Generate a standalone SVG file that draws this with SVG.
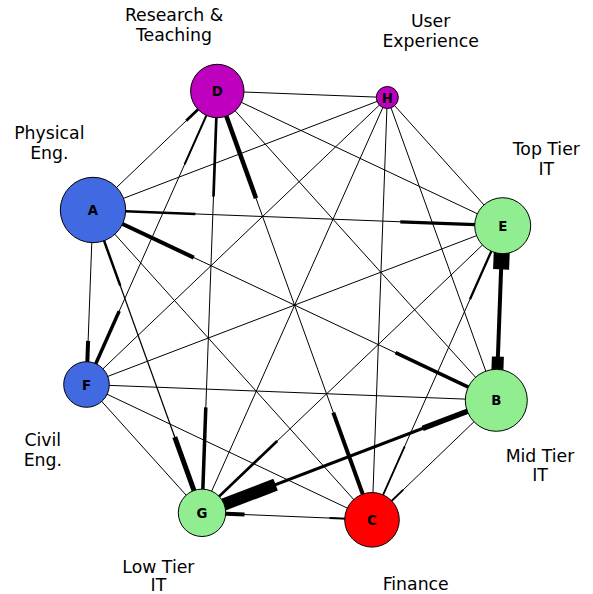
<svg xmlns="http://www.w3.org/2000/svg" width="593" height="594" viewBox="0 0 593 594">
<style>
.e{stroke:#000;stroke-width:1;stroke-linecap:butt;fill:none}
.s{stroke:#000;stroke-linecap:butt;fill:none}
.n{stroke:#000;stroke-width:1}
.nl{font-family:"DejaVu Sans",sans-serif;font-weight:bold;font-size:13.3px;text-anchor:middle;fill:#000}
.gl{font-family:"DejaVu Sans",sans-serif;font-size:17.3px;text-anchor:middle;fill:#000}
</style>
<rect width="593" height="594" fill="#fff"/>
<g id="connectors">
<line class="e" x1="93" y1="210" x2="217.3" y2="91"/>
<line class="e" x1="93" y1="210" x2="387.3" y2="97.5"/>
<line class="e" x1="93" y1="210" x2="502.7" y2="225.7"/>
<line class="e" x1="93" y1="210" x2="496.3" y2="400.3"/>
<line class="e" x1="93" y1="210" x2="372" y2="519.8"/>
<line class="e" x1="93" y1="210" x2="202" y2="512.8" style="stroke-width:1.25"/>
<line class="e" x1="93" y1="210" x2="86.5" y2="384.5"/>
<line class="e" x1="217.3" y1="91" x2="387.3" y2="97.5"/>
<line class="e" x1="217.3" y1="91" x2="502.7" y2="225.7"/>
<line class="e" x1="217.3" y1="91" x2="496.3" y2="400.3"/>
<line class="e" x1="217.3" y1="91" x2="372" y2="519.8"/>
<line class="e" x1="217.3" y1="91" x2="202" y2="512.8"/>
<line class="e" x1="217.3" y1="91" x2="86.5" y2="384.5"/>
<line class="e" x1="387.3" y1="97.5" x2="502.7" y2="225.7"/>
<line class="e" x1="387.3" y1="97.5" x2="496.3" y2="400.3"/>
<line class="e" x1="387.3" y1="97.5" x2="372" y2="519.8"/>
<line class="e" x1="387.3" y1="97.5" x2="202" y2="512.8"/>
<line class="e" x1="387.3" y1="97.5" x2="86.5" y2="384.5"/>
<line class="e" x1="502.7" y1="225.7" x2="496.3" y2="400.3" style="stroke-width:4"/>
<line class="e" x1="502.7" y1="225.7" x2="372" y2="519.8"/>
<line class="e" x1="502.7" y1="225.7" x2="202" y2="512.8"/>
<line class="e" x1="502.7" y1="225.7" x2="86.5" y2="384.5"/>
<line class="e" x1="496.3" y1="400.3" x2="372" y2="519.8"/>
<line class="e" x1="496.3" y1="400.3" x2="202" y2="512.8" style="stroke-width:3.1"/>
<line class="e" x1="496.3" y1="400.3" x2="86.5" y2="384.5"/>
<line class="e" x1="372" y1="519.8" x2="202" y2="512.8"/>
<line class="e" x1="372" y1="519.8" x2="86.5" y2="384.5"/>
<line class="e" x1="202" y1="512.8" x2="86.5" y2="384.5"/>
<line class="s" x1="186.2" y1="120.75" x2="217.3" y2="91" style="stroke-width:2.7"/>
<line class="s" x1="195.4" y1="213.9" x2="93" y2="210" style="stroke-width:2.5"/>
<line class="s" x1="400.3" y1="221.8" x2="502.7" y2="225.7" style="stroke-width:3.3"/>
<line class="s" x1="193.8" y1="257.6" x2="93" y2="210" style="stroke-width:4"/>
<line class="s" x1="395.5" y1="352.7" x2="496.3" y2="400.3" style="stroke-width:3.5"/>
<line class="s" x1="174.75" y1="437.1" x2="202" y2="512.8" style="stroke-width:5"/>
<line class="s" x1="120.25" y1="285.7" x2="93" y2="210" style="stroke-width:2.5"/>
<line class="s" x1="88.1" y1="340.9" x2="86.5" y2="384.5" style="stroke-width:4"/>
<line class="s" x1="256" y1="198.2" x2="217.3" y2="91" style="stroke-width:4.5"/>
<line class="s" x1="333.3" y1="412.6" x2="372" y2="519.8" style="stroke-width:4"/>
<line class="s" x1="213.5" y1="196.45" x2="217.3" y2="91" style="stroke-width:2.7"/>
<line class="s" x1="205.8" y1="407.35" x2="202" y2="512.8" style="stroke-width:3.5"/>
<line class="s" x1="119.2" y1="311.1" x2="86.5" y2="384.5" style="stroke-width:3.5"/>
<line class="s" x1="184.6" y1="164.4" x2="217.3" y2="91" style="stroke-width:2"/>
<line class="s" x1="501.1" y1="269.35" x2="502.7" y2="225.7" style="stroke-width:16"/>
<line class="s" x1="497.9" y1="356.65" x2="496.3" y2="400.3" style="stroke-width:12"/>
<line class="s" x1="404.7" y1="446.3" x2="372" y2="519.8" style="stroke-width:1.8"/>
<line class="s" x1="470" y1="299.2" x2="502.7" y2="225.7" style="stroke-width:2.3"/>
<line class="s" x1="277.2" y1="441" x2="202" y2="512.8" style="stroke-width:2.7"/>
<line class="s" x1="403.1" y1="489.9" x2="372" y2="519.8" style="stroke-width:2"/>
<line class="s" x1="275.6" y1="484.7" x2="202" y2="512.8" style="stroke-width:12.5"/>
<line class="s" x1="422.7" y1="428.4" x2="496.3" y2="400.3" style="stroke-width:5.5"/>
<line class="s" x1="244.5" y1="514.55" x2="202" y2="512.8" style="stroke-width:4"/>
<line class="s" x1="329.5" y1="518.05" x2="372" y2="519.8" style="stroke-width:2"/>
</g>
<g id="node-A"><circle class="n" cx="93" cy="210" r="32.7" fill="#4169E1"/><text class="nl" x="93" y="215">A</text></g>
<g id="node-D"><circle class="n" cx="217.3" cy="91" r="26.7" fill="#BF00BF"/><text class="nl" x="217.3" y="96">D</text></g>
<g id="node-H"><circle class="n" cx="387.3" cy="97.5" r="11" fill="#BF00BF"/><text class="nl" x="387.3" y="102.5">H</text></g>
<g id="node-E"><circle class="n" cx="502.7" cy="225.7" r="28" fill="#90EE90"/><text class="nl" x="502.7" y="230.7">E</text></g>
<g id="node-B"><circle class="n" cx="496.3" cy="400.3" r="31" fill="#90EE90"/><text class="nl" x="496.3" y="405.3">B</text></g>
<g id="node-C"><circle class="n" cx="372" cy="519.8" r="27.3" fill="#FF0000"/><text class="nl" x="372" y="524.8">C</text></g>
<g id="node-G"><circle class="n" cx="202" cy="512.8" r="23.7" fill="#90EE90"/><text class="nl" x="202" y="517.8">G</text></g>
<g id="node-F"><circle class="n" cx="86.5" cy="384.5" r="22.8" fill="#4169E1"/><text class="nl" x="86.5" y="389.5">F</text></g>
<g id="labels">
<text class="gl" x="174" y="21">Research &amp;</text>
<text class="gl" x="174" y="40.5">Teaching</text>
<text class="gl" x="430.6" y="27.3">User</text>
<text class="gl" x="430.6" y="46.7">Experience</text>
<text class="gl" x="546.3" y="155.3">Top Tier</text>
<text class="gl" x="546.3" y="174.7">IT</text>
<text class="gl" x="49.3" y="139.3">Physical</text>
<text class="gl" x="49.3" y="159.3">Eng.</text>
<text class="gl" x="42.8" y="446">Civil</text>
<text class="gl" x="42.8" y="466">Eng.</text>
<text class="gl" x="540" y="461.6">Mid Tier</text>
<text class="gl" x="540" y="481">IT</text>
<text class="gl" x="158.4" y="572.5">Low Tier</text>
<text class="gl" x="158.4" y="591">IT</text>
<text class="gl" x="415.7" y="589.5">Finance</text>
</g>
</svg>
